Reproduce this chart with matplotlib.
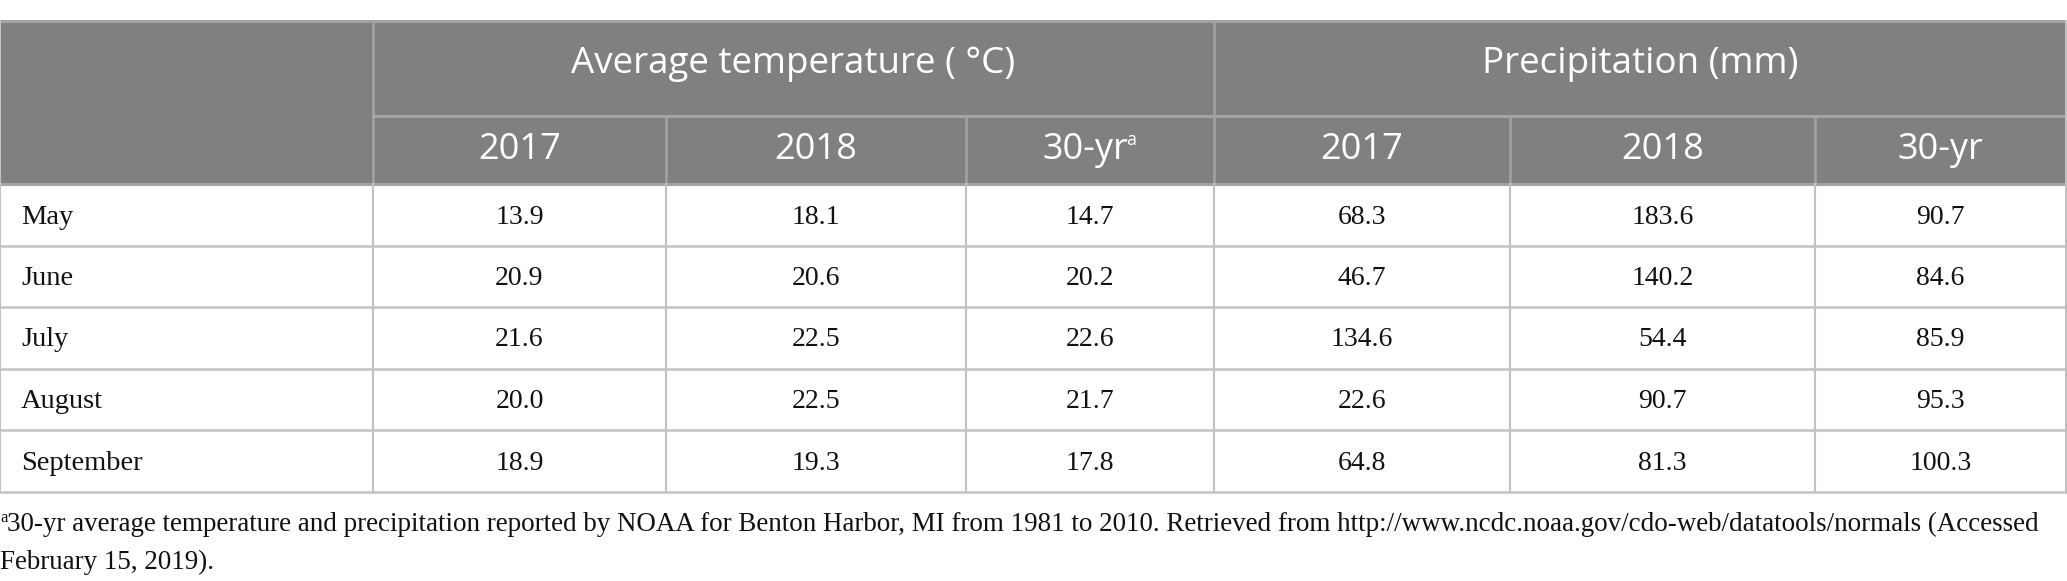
import matplotlib
matplotlib.use("Agg")
import matplotlib.pyplot as plt
from matplotlib.patches import Rectangle

# ---- data ----
months = ["May", "June", "July", "August", "September"]
temp_2017 = [13.9, 20.9, 21.6, 20.0, 18.9]
temp_2018 = [18.1, 20.6, 22.5, 22.5, 19.3]
temp_30yr = [14.7, 20.2, 22.6, 21.7, 17.8]
precip_2017 = [68.3, 46.7, 134.6, 22.6, 64.8]
precip_2018 = [183.6, 140.2, 54.4, 90.7, 81.3]
precip_30yr = [90.7, 84.6, 85.9, 95.3, 100.3]
group_labels = ["Average temperature ( °C)", "Precipitation (mm)"]
sub_labels = ["2017", "2018", "30-yr", "2017", "2018", "30-yr"]
footnote_1 = ("30-yr average temperature and precipitation reported by NOAA for Benton Harbor, "
              "MI from 1981 to 2010. Retrieved from http://www.ncdc.noaa.gov/cdo-web/datatools/normals (Accessed")
footnote_2 = "February 15, 2019)."

# ---- layout (pixel grid) ----
W, H = 2067, 581
col_edges = [0, 373, 666, 966, 1214, 1510, 1815, 2066]
row_edges = [21, 116, 184, 246, 307, 369, 430, 492]

HDR_BG = "#7f8180"
HDR_LINE = "#a3a4a3"
BODY_LINE = "#c2c2c2"
TXT = "#111111"
SANS = ["Open Sans", "DejaVu Sans"]
SERIF = ["Liberation Serif", "DejaVu Serif"]

fig = plt.figure(figsize=(W / 100, H / 100), dpi=100)
ax = fig.add_axes([0, 0, 1, 1])
ax.set_xlim(0, W)
ax.set_ylim(H, 0)
ax.axis("off")

# header background
ax.add_patch(Rectangle((col_edges[0], row_edges[0]), col_edges[-1] - col_edges[0],
                       row_edges[2] - row_edges[0], facecolor=HDR_BG, edgecolor="none", zorder=1))

# header lines
ax.plot([col_edges[0], col_edges[-1]], [row_edges[0]] * 2, color=HDR_LINE, lw=2.2, zorder=3)
ax.plot([col_edges[1], col_edges[-1]], [row_edges[1]] * 2, color=HDR_LINE, lw=2.2, zorder=3)
ax.plot([col_edges[0], col_edges[-1]], [row_edges[2]] * 2, color=HDR_LINE, lw=2.2, zorder=3)
for i, x in enumerate(col_edges):
    if i in (0, len(col_edges) - 1):
        ax.plot([x, x], [row_edges[0], row_edges[-1]], color=BODY_LINE, lw=1.5, zorder=3)
    elif i in (1, 4):
        ax.plot([x, x], [row_edges[0], row_edges[2]], color=HDR_LINE, lw=1.8, zorder=3)
        ax.plot([x, x], [row_edges[2], row_edges[-1]], color=BODY_LINE, lw=1.5, zorder=3)
    else:
        ax.plot([x, x], [row_edges[1], row_edges[2]], color=HDR_LINE, lw=1.8, zorder=3)
        ax.plot([x, x], [row_edges[2], row_edges[-1]], color=BODY_LINE, lw=1.5, zorder=3)
for y in row_edges[3:]:
    ax.plot([col_edges[0], col_edges[-1]], [y, y], color=BODY_LINE, lw=1.8, zorder=3)

# group header
ax.text((col_edges[1] + col_edges[4]) / 2, (row_edges[0] + row_edges[1]) / 2 - 5, group_labels[0],
        ha="center", va="center", color="white", fontsize=26.5, family=SANS, zorder=4)
ax.text((col_edges[4] + col_edges[7]) / 2, (row_edges[0] + row_edges[1]) / 2 - 5, group_labels[1],
        ha="center", va="center", color="white", fontsize=26.5, family=SANS, zorder=4)

fig.canvas.draw()
renderer = fig.canvas.get_renderer()

# sub headers
ymid2 = (row_edges[1] + row_edges[2]) / 2
for j, lab in enumerate(sub_labels):
    cx = (col_edges[j + 1] + col_edges[j + 2]) / 2
    t = ax.text(cx, ymid2, lab, ha="center", va="center", color="white",
                fontsize=26, family=SANS, zorder=4)
    if j == 2:
        t.set_x(cx - 5)
        bb = t.get_window_extent(renderer)
        ax.text(bb.x1 - 2, ymid2 - 10, "a", ha="left", va="center", color="white",
                fontsize=13, family=SANS, zorder=4)

# body
cols = [temp_2017, temp_2018, temp_30yr, precip_2017, precip_2018, precip_30yr]
for i, m in enumerate(months):
    cy = (row_edges[i + 2] + row_edges[i + 3]) / 2 + 2
    ax.text(col_edges[0] + 21, cy, m, ha="left", va="center", fontsize=20.5, family=SERIF,
            color=TXT, zorder=4)
    for j, c in enumerate(cols):
        cx = (col_edges[j + 1] + col_edges[j + 2]) / 2
        ax.text(cx, cy, f"{c[i]:.1f}", ha="center", va="center", fontsize=20, family=SERIF,
                color=TXT, zorder=4)

# footnote
ax.text(0, 522, "a", ha="left", va="baseline", fontsize=12, family=SERIF, color=TXT)
f1 = ax.text(7, 531, footnote_1, ha="left", va="baseline", fontsize=20, family=SERIF, color=TXT)
bb = f1.get_window_extent(renderer)
target = 2038 - 7
if bb.width > target:
    f1.set_fontsize(20 * target / bb.width)
ax.text(0, 569, footnote_2, ha="left", va="baseline", fontsize=f1.get_fontsize(), family=SERIF,
        color=TXT)

fig.savefig("out.png", dpi=100)
